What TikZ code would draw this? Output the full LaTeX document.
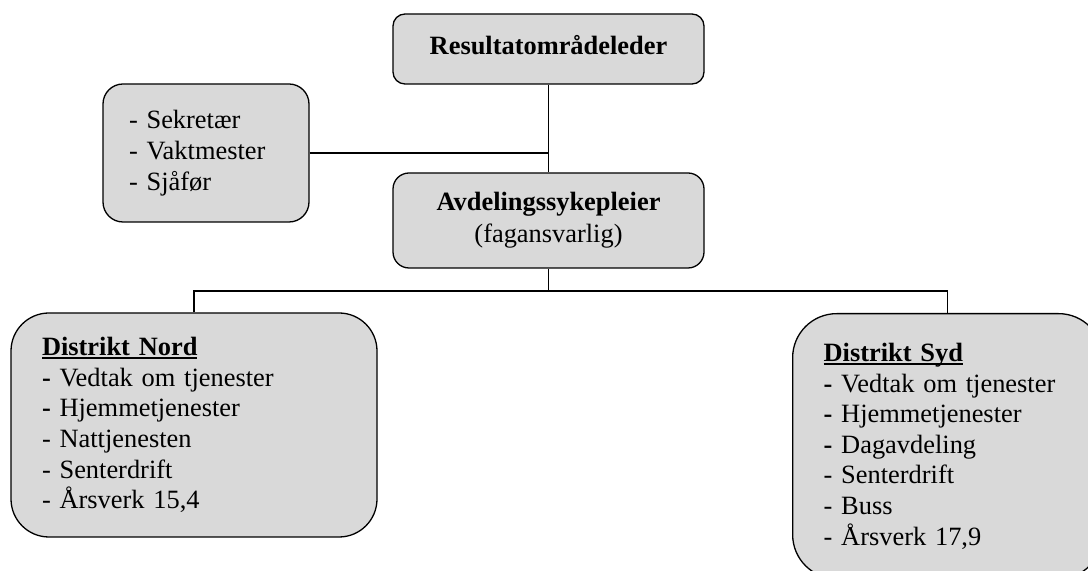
\documentclass[tikz,border=0pt]{standalone}
\usepackage{fontspec}
\setmainfont{Liberation Serif}
\definecolor{boxgray}{RGB}{217,217,217}
\newcommand{\hdrline}[1]{\setbox0\hbox{\textbf{#1}}\rlap{\rule[-1.6pt]{\wd0}{0.9pt}}\box0}
\begin{document}
\begin{tikzpicture}[x=0.5pt,y=-0.5pt,
  orgbox/.style={draw=black, line width=0.65pt, fill=boxgray, inner ysep=0pt,
    font=\fontsize{13.2}{15.3}\selectfont},
  link/.style={draw=black, line width=0.65pt}]
\useasboundingbox (0,0) rectangle (1088,571);
\clip (0,0) rectangle (1088,571);
\node[orgbox, rounded corners=6pt, minimum width=155.5pt, minimum height=35pt, text depth=4pt] (top) at (548.5,49) {\textbf{Resultatområdeleder}};
\node[orgbox, rounded corners=10pt, minimum height=69pt, text width=77pt, inner xsep=13pt, align=left,
  font=\fontsize{13.2}{15.5}\selectfont] (staff) at (206,153) {- Sekretær\\- Vaktmester\\- Sjåfør};
\node[orgbox, rounded corners=8pt, minimum width=155.5pt, minimum height=47.5pt, align=center,
  font=\fontsize{13.2}{16}\selectfont] (head) at (548.5,220.5) {\textbf{Avdelingssykepleier}\\(fagansvarlig)};
\node[orgbox, rounded corners=19pt, minimum height=112pt, text width=152pt, inner xsep=15.5pt, align=left] (nord) at (194,425)
  {\hdrline{Distrikt Nord}\\\textbf{-} Vedtak om tjenester\\\textbf{-} Hjemmetjenester\\- Nattjenesten\\- Senterdrift\\- Årsverk 15,4};
\node[orgbox, rounded corners=22pt, minimum height=132.5pt, text width=124pt, inner xsep=15.5pt, align=left, anchor=north west] (syd) at (792,313)
  {\hdrline{Distrikt Syd}\\\textbf{-} Vedtak om tjenester\\\textbf{-} Hjemmetjenester\\\textbf{-} Dagavdeling\\- Senterdrift\\- Buss\\- Årsverk 17,9};
\draw[link] (top.south) -- (head.north);
\draw[link] (staff.east) -- (staff.east -| top.south);
\coordinate (bus) at (548.5,291);
\draw[link] (head.south) -- (bus);
\draw[link] (nord.north) |- (bus) -| (syd.north);
\end{tikzpicture}
\end{document}
